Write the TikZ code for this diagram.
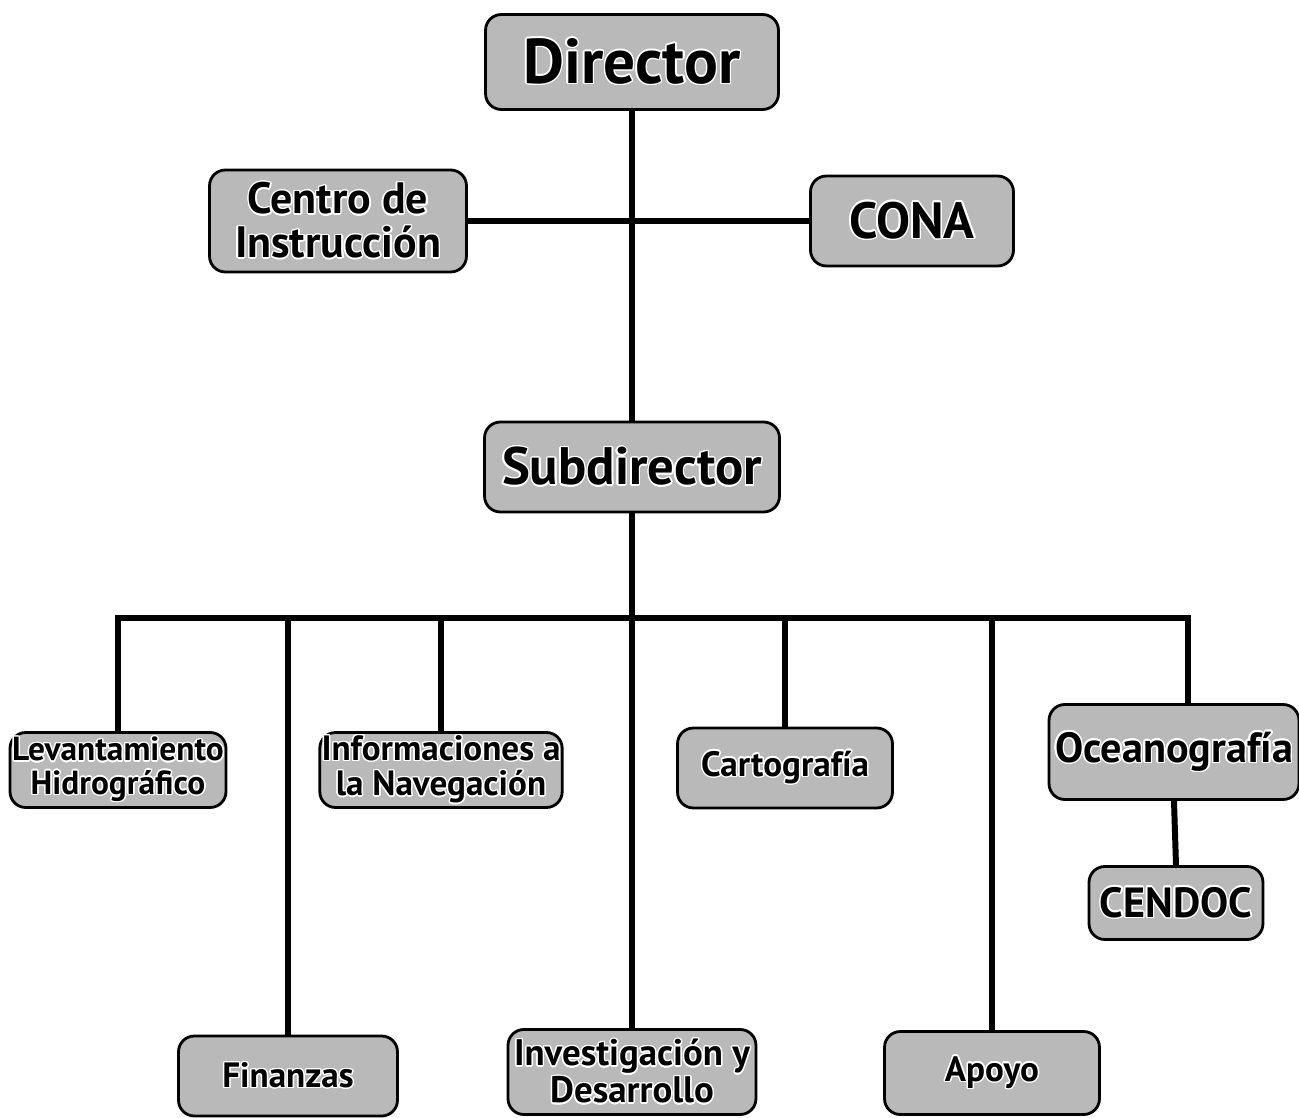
\documentclass[tikz,border=0pt]{standalone}
\usepackage{fontspec}
\setmainfont{PT Sans}
\usepackage{contour}
\contourlength{0.8pt}
\usetikzlibrary{positioning}

\newcommand{\fsz}[2]{\bfseries\fontsize{#1}{#2}\selectfont}
\newcommand{\lbl}[1]{\contour{white}{#1}}

\tikzset{
  unit/.style={draw, line width=1.6pt, rounded corners=9pt, fill=gray!55,
    align=center, inner sep=1pt, font=\fsz{20}{20}},
  head/.style={unit, font=\fsz{36}{36}},
  link/.style={line width=3.4pt}
}

\begin{document}
\begin{tikzpicture}[x=0.02cm, y=-0.02cm]
  \useasboundingbox (0,0) rectangle (1299,1118);

  % top of the chart
  \node[head, minimum width=5.86cm, minimum height=1.9cm] (dir) at (632,62) {\lbl{Director}};
  \node[unit, minimum width=5.14cm, minimum height=2.04cm, font=\fsz{25}{25}] (cen) at (338,221) {\lbl{Centro de}\\\lbl{Instrucción}};
  \node[unit, minimum width=4.06cm, minimum height=1.8cm, font=\fsz{29}{29}] (cona) at (912,221) {\lbl{CONA}};
  \node[head, minimum width=5.9cm, minimum height=1.8cm, font=\fsz{30}{30}] (sub) at (632,467) {\lbl{Subdirector}};

  % departments
  \node[unit, minimum width=4.32cm, minimum height=1.5cm, font=\fsz{19}{19}] (lev) at (118,770) {\lbl{Levantamiento}\\\lbl{Hidrográfico}};
  \node[unit, minimum width=4.76cm, minimum height=1.5cm] (inf) at (441,770) {\lbl{Informaciones a}\\\lbl{la Navegación}};
  \node[unit, minimum width=4.3cm, minimum height=1.6cm] (car) at (785,768) {\lbl{Cartografía}};
  \node[unit, minimum width=5cm, minimum height=1.9cm, font=\fsz{24}{24}] (oce) at (1174,752) {\lbl{Oceanografía}};
  \node[unit, minimum width=3.48cm, minimum height=1.46cm, font=\fsz{24}{24}] (cdc) at (1176,903) {\lbl{CENDOC}};
  \node[unit, minimum width=4.38cm, minimum height=1.6cm] (fin) at (288,1076) {\lbl{Finanzas}};
  \node[unit, minimum width=4.96cm, minimum height=1.7cm, font=\fsz{21}{21}] (inv) at (632,1072) {\lbl{Investigación y}\\\lbl{Desarrollo}};
  \node[unit, minimum width=4.3cm, minimum height=1.66cm] (apo) at (992,1073) {\lbl{Apoyo}};

  \coordinate (bus) at (632,618);
  \coordinate (oce top) at (1188,618);

  % connectors
  \draw[link] (dir.south) -- (sub.north);
  \draw[link] (cen.east) -- (cona.west);
  \draw[link] (sub.south) -- (inv.north);
  \draw[link] (lev.north) |- (oce top) -- (oce top |- oce.north);
  \draw[link] (fin.north) -- (fin.north |- bus);
  \draw[link] (inf.north) -- (inf.north |- bus);
  \draw[link] (car.north) -- (car.north |- bus);
  \draw[link] (apo.north) -- (apo.north |- bus);
  \draw[link] (oce.south) -- (cdc.north);
\end{tikzpicture}
\end{document}
